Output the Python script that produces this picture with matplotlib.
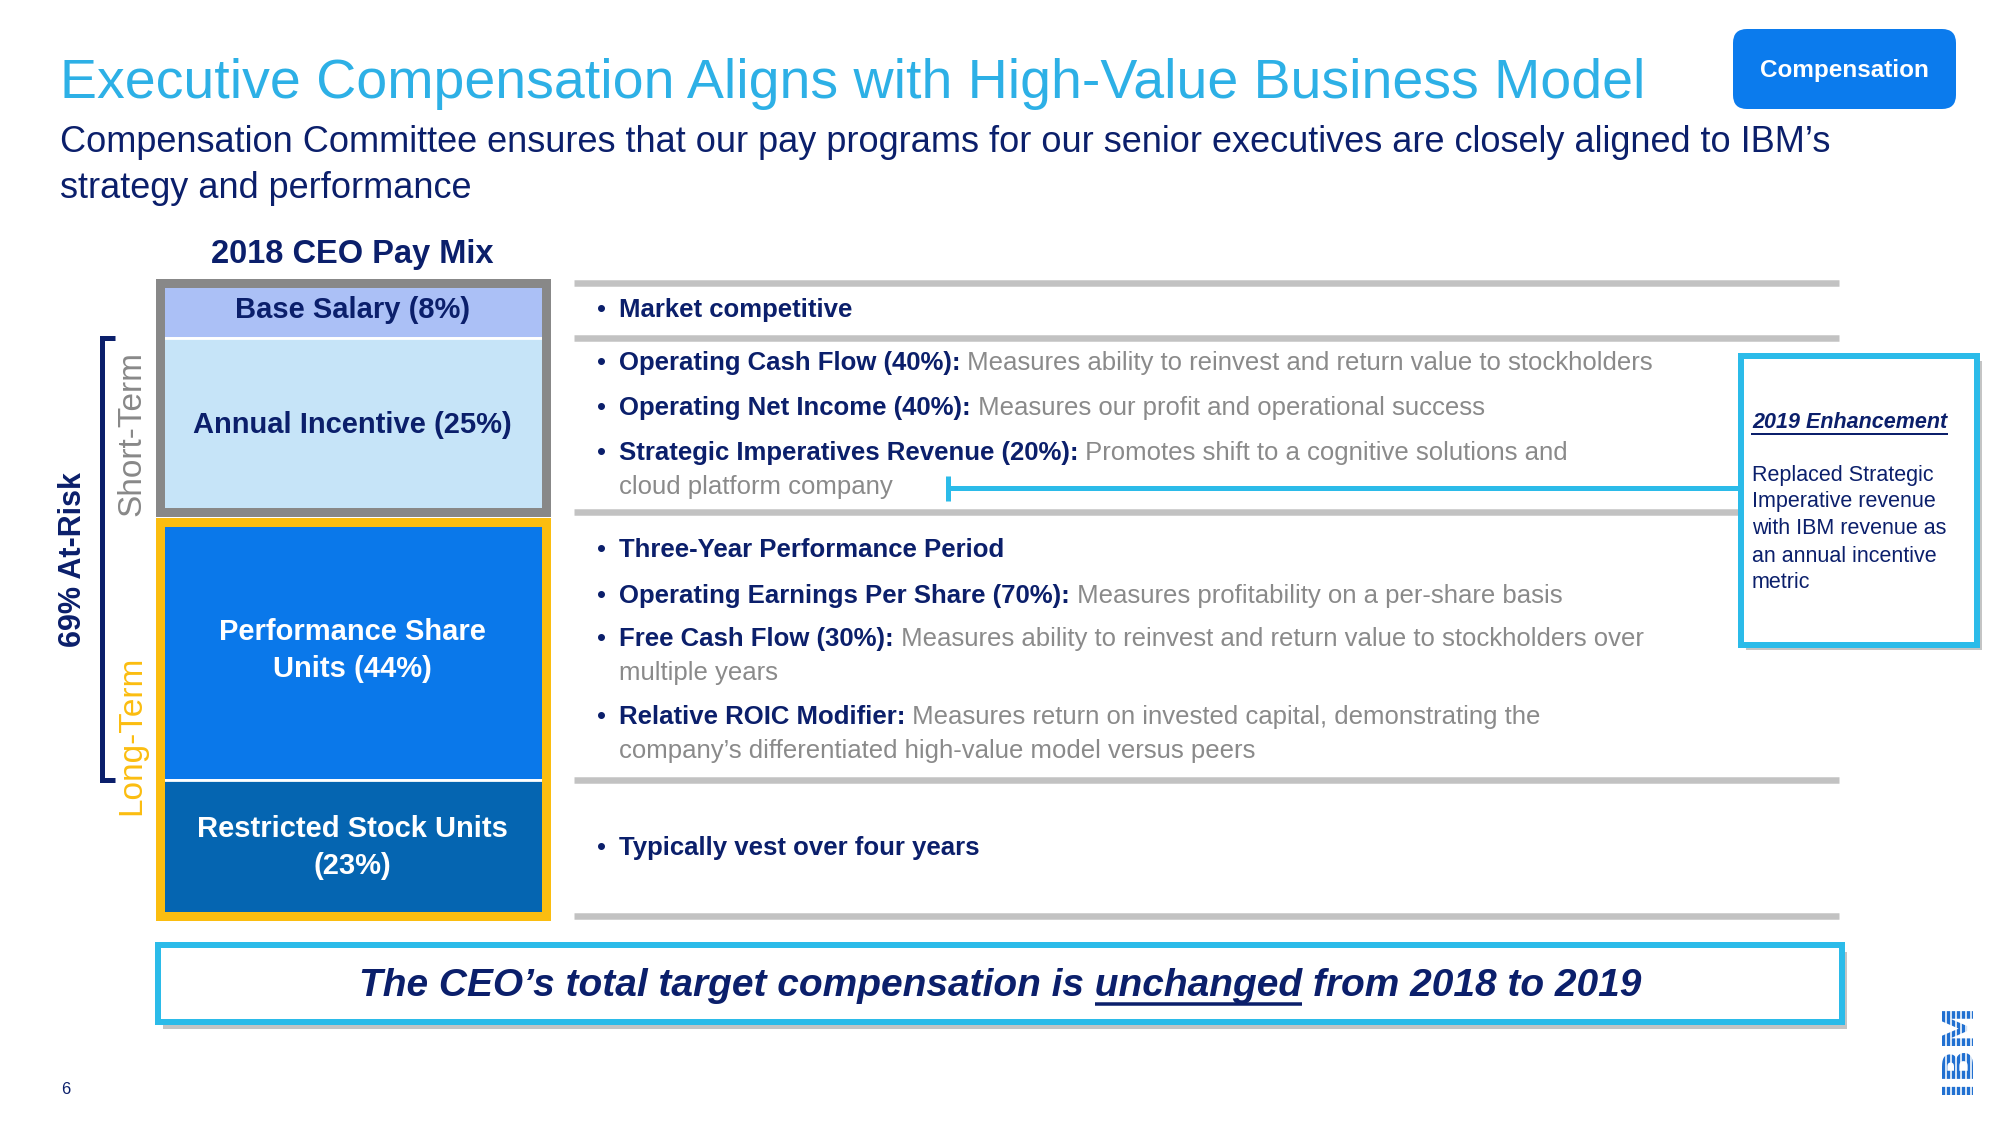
import textwrap
import matplotlib
matplotlib.use("Agg")
import matplotlib.pyplot as plt
from matplotlib.patches import Rectangle, FancyBboxPatch

plt.rcParams['font.family'] = ['Liberation Sans', 'DejaVu Sans']

# ---- data ----
segments = ["Base Salary", "Annual Incentive", "Performance Share Units", "Restricted Stock Units"]
shares = [8, 25, 44, 23]
horizon = ["Short-Term", "Short-Term", "Long-Term", "Long-Term"]
at_risk = [False, True, True, False]

base_notes = ["Market competitive"]
annual_metrics = ["Operating Cash Flow", "Operating Net Income", "Strategic Imperatives Revenue"]
annual_weights = [40, 40, 20]
annual_desc = ["Measures ability to reinvest and return value to stockholders",
               "Measures our profit and operational success",
               "Promotes shift to a cognitive solutions and\ncloud platform company"]
psu_period = "Three-Year Performance Period"
psu_metrics = ["Operating Earnings Per Share", "Free Cash Flow"]
psu_weights = [70, 30]
psu_desc = ["Measures profitability on a per-share basis",
            "Measures ability to reinvest and return value to stockholders over\nmultiple years"]
psu_modifier = ("Relative ROIC Modifier",
                "Measures return on invested capital, demonstrating the\ncompany\u2019s differentiated high-value model versus peers")
rsu_notes = ["Typically vest over four years"]

enh_title = "2019 Enhancement"
enh_lines = ["Replaced Strategic", "Imperative revenue", "with IBM revenue as", "an annual incentive", "metric"]

# ---- colours ----
NAVY = '#0b1f6b'
TITLE_BLUE = '#2db0e6'
CYAN = '#2bbbe9'
GRAY_TXT = '#8a8a8a'
SEP = '#c2c2c2'
seg_colors = ['#abc0f6', '#c6e4f8', '#0a78ea', '#0565b1']
seg_text = [NAVY, NAVY, 'white', 'white']
horizon_colors = {"Short-Term": '#888888', "Long-Term": '#fbbd10'}

W, H = 2000, 1125
PT = 72 / 100  # points per pixel
fig = plt.figure(figsize=(20, 11.25), dpi=100)
bg = fig.add_axes([0, 0, 1, 1])
bg.set_xlim(0, W)
bg.set_ylim(H, 0)
bg.axis('off')


def px_axes(x0, y0, x1, y1):
    return fig.add_axes([x0 / W, 1 - y1 / H, (x1 - x0) / W, (y1 - y0) / H])


# ---- header ----
bg.text(60, 84, "Executive Compensation Aligns with High-Value Business Model",
        fontsize=40, color=TITLE_BLUE, va='center')
bg.text(60, 143, "Compensation Committee ensures that our pay programs for our senior executives are closely aligned to IBM\u2019s",
        fontsize=26, color=NAVY, va='center')
bg.text(60, 188, "strategy and performance", fontsize=26, color=NAVY, va='center')
bg.add_patch(FancyBboxPatch((1733, 29), 223, 80, boxstyle="round,pad=0,rounding_size=14",
                            fc='#0b7bed', ec='none'))
bg.text(1844, 70, "Compensation", fontsize=17.5, weight='bold', color='white', ha='center', va='center')

bg.text(352, 255, "2018 CEO Pay Mix", fontsize=23.5, weight='bold', color=NAVY, ha='center', va='center')

# ---- pay mix bars (one axes per horizon) ----
group_boxes = {"Short-Term": (159.5, 282.5, 545.5, 512.5), "Long-Term": (159.5, 521.5, 545.5, 915.5)}
edges_px = {}
for grp, box in group_boxes.items():
    ax = px_axes(*box)
    idx = [i for i, h in enumerate(horizon) if h == grp]
    total = sum(shares[i] for i in idx)
    ax.set_xlim(-0.5, 0.5)
    ax.set_ylim(total, 0)
    ax.set_xticks([])
    ax.set_yticks([])
    ax.patch.set_alpha(0)
    for s in ax.spines.values():
        s.set_color(horizon_colors[grp])
        s.set_linewidth(9 * PT)
    bottom = 0
    for i in idx:
        ax.bar(0, shares[i], bottom=bottom, width=1, color=seg_colors[i], edgecolor='white', linewidth=2)
        ax.text(0, bottom + shares[i] / 2, textwrap.fill(f"{segments[i]} ({shares[i]}%)", 22),
                ha='center', va='center', fontsize=21, weight='bold', color=seg_text[i], linespacing=1.42)
        y0 = bg.transData.inverted().transform(ax.transData.transform((0, bottom)))[1]
        y1 = bg.transData.inverted().transform(ax.transData.transform((0, bottom + shares[i])))[1]
        edges_px[i] = (y0, y1)
        bottom += shares[i]

# separator lines to the right of the bar
sep_y = [edges_px[0][0]] + [edges_px[i][1] for i in range(len(shares))]
for y in sep_y:
    bg.plot([574, 1839], [y, y], color=SEP, lw=6.5 * PT, solid_capstyle='butt')

# horizon labels and at-risk bracket
bg.text(132, 433, "Short-Term", rotation=90, fontsize=24, color=horizon_colors["Short-Term"], ha='center', va='center')
bg.text(132, 735, "Long-Term", rotation=90, fontsize=24, color=horizon_colors["Long-Term"], ha='center', va='center')
risk_idx = [i for i, r in enumerate(at_risk) if r]
y_top, y_bot = edges_px[risk_idx[0]][0], edges_px[risk_idx[-1]][1]
bg.plot([115, 102, 102, 115], [y_top, y_top, y_bot, y_bot], color=NAVY, lw=5 * PT,
        solid_joinstyle='miter', solid_capstyle='butt')
bg.text(73, (y_top + y_bot) / 2, f"{sum(shares[i] for i in risk_idx)}% At-Risk", rotation=90,
        fontsize=22, weight='bold', color=NAVY, ha='center', va='center')

# ---- bullet text ----
FS = 18.5
LINE = 34


def bullet(y, head, body=""):
    bg.text(597, y, "\u2022", fontsize=FS, color=NAVY, va='center')
    t = bg.text(619, y, head, fontsize=FS, weight='bold', color=NAVY, va='center')
    if body:
        lines = body.split("\n")
        bg.annotate(" " + lines[0], xy=(1, 0), xycoords=t, va='bottom', ha='left', fontsize=FS, color=GRAY_TXT)
        for k, ln in enumerate(lines[1:], 1):
            bg.text(619, y + k * LINE, ln, fontsize=FS, color=GRAY_TXT, va='center')


bullet(310, base_notes[0])
for y, m, w, d in zip([363, 408, 453], annual_metrics, annual_weights, annual_desc):
    bullet(y, f"{m} ({w}%):", d)
bullet(550, psu_period)
for y, m, w, d in zip([596, 639], psu_metrics, psu_weights, psu_desc):
    bullet(y, f"{m} ({w}%):", d)
bullet(717, psu_modifier[0] + ":", psu_modifier[1])
bullet(848, rsu_notes[0])

# ---- 2019 enhancement call-out ----
bg.add_patch(Rectangle((1746, 361), 236, 289, fc='#c4c4c4', ec='none', zorder=1))
bg.add_patch(Rectangle((1741, 356), 236, 289, fc='white', ec=CYAN, lw=6 * PT, zorder=2))
bg.plot([948, 1741], [488, 488], color=CYAN, lw=5 * PT, solid_capstyle='butt', zorder=2)
bg.plot([948, 948], [476, 501], color=CYAN, lw=5 * PT, solid_capstyle='butt', zorder=2)
enh = bg.text(1752, 422, enh_title, fontsize=15.5, weight='bold', style='italic', color=NAVY, va='center', zorder=3)
for k, ln in enumerate(enh_lines):
    bg.text(1752, 475 + 27 * k, ln, fontsize=15.5, color=NAVY, va='center', zorder=3)

# ---- bottom statement ----
bg.add_patch(Rectangle((163, 952), 1684, 77, fc='#c4c4c4', ec='none', zorder=1))
bg.add_patch(Rectangle((158, 945), 1684, 77, fc='white', ec=CYAN, lw=6 * PT, zorder=2))
stmt_pre, stmt_word, stmt_post = "The CEO\u2019s total target compensation is ", "unchanged", " from 2018 to 2019"
stmt_kw = dict(fontsize=28, weight='bold', style='italic', color=NAVY, va='center', zorder=3)
stmt = bg.text(1000, 986, stmt_pre + stmt_word + stmt_post, ha='center', **stmt_kw)

# page number and logo
bg.text(66, 1090, "6", fontsize=12, color=NAVY, ha='center', va='center')
logo = bg.text(1958, 1048, "IBM", rotation=90, fontsize=31, weight='bold', family='DejaVu Sans',
               color='#1f6fd1', ha='center', va='center')

# underlines and logo stripes need measured text extents
fig.canvas.draw()
r = fig.canvas.get_renderer()


def extent(txt):
    tmp = bg.text(0, 0, txt, **{k: v for k, v in stmt_kw.items() if k != 'zorder'})
    w = tmp.get_window_extent(r).width
    tmp.remove()
    return w


bb = stmt.get_window_extent(r)
x_end = bb.x0 + extent(stmt_pre + stmt_word)
x_start = x_end - extent(stmt_word)
bg.plot([x_start, x_end], [1004, 1004], color=NAVY, lw=3.5 * PT, zorder=3, solid_capstyle='butt')

eb = enh.get_window_extent(r)
bg.plot([eb.x0, eb.x1], [H - eb.y0 + 1, H - eb.y0 + 1], color=NAVY, lw=2 * PT, zorder=3)

lb = logo.get_window_extent(r)
x = lb.x0 + 4
while x < lb.x1:
    bg.plot([x, x], [H - lb.y1 - 2, H - lb.y0 + 2], color='white', lw=1.6 * PT, zorder=4)
    x += 5

fig.savefig("out.png", dpi=100, facecolor='white')
